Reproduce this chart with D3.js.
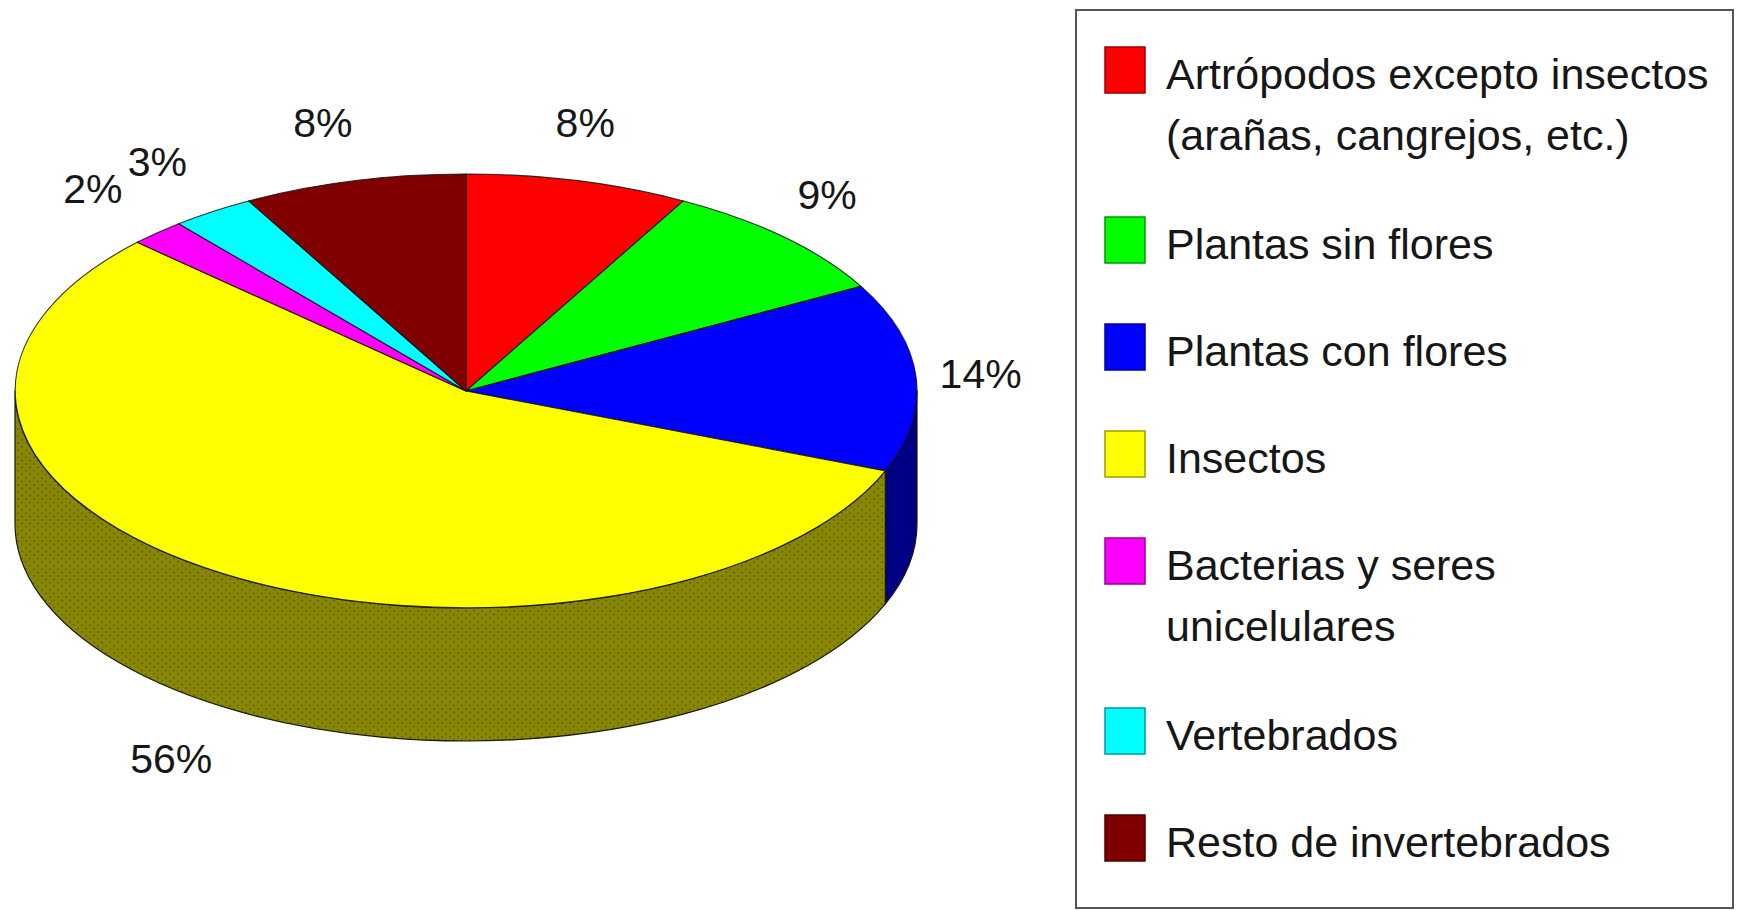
<!DOCTYPE html>
<html>
<head>
<meta charset="utf-8">
<script src="https://cdn.jsdelivr.net/npm/d3@7"></script>
<style>
  html, body { margin: 0; padding: 0; background: #ffffff; }
  svg { display: block; }
  text { font-family: "Liberation Sans", Arial, Helvetica, sans-serif; fill: #161616; }
</style>
</head>
<body>
<svg id="chart" width="1741" height="911"></svg>
<script>
// ---- data ----
const categoryLines = [
  ["Artrópodos excepto insectos", "(arañas, cangrejos, etc.)"],
  ["Plantas sin flores"],
  ["Plantas con flores"],
  ["Insectos"],
  ["Bacterias y seres", "unicelulares"],
  ["Vertebrados"],
  ["Resto de invertebrados"]
];
const values = [8, 9, 14, 56, 2, 3, 8];
const pctLabels = ["8%", "9%", "14%", "56%", "2%", "3%", "8%"];
const topColors = ["#ff0000", "#00ff00", "#0000ff", "#ffff00", "#ff00ff", "#00ffff", "#800000"];
const sideColors = ["#800000", "#008000", "#000085", "#848400", "#800080", "#008080", "#400000"];

// ---- layout ----
const svg = d3.select("#chart");
const cx = 466, cy = 391, rx = 451, ry = 217, depth = 133;

const defs = svg.append("defs");
const pat = defs.append("pattern")
  .attr("id", "dots").attr("patternUnits", "userSpaceOnUse")
  .attr("width", 8).attr("height", 7);
pat.append("rect").attr("width", 8).attr("height", 7).attr("fill", "#878705");
pat.append("circle").attr("cx", 2).attr("cy", 2).attr("r", 1.1).attr("fill", "#5c5c00").attr("opacity", 0.7);
pat.append("circle").attr("cx", 6).attr("cy", 5.5).attr("r", 1.1).attr("fill", "#5c5c00").attr("opacity", 0.7);

const pie = d3.pie().sort(null).value(d => d)(values);

const P = (t, dy = 0) => [cx + rx * Math.sin(t), cy - ry * Math.cos(t) + dy];

// side walls (front half only)
const gSide = svg.append("g");
pie.forEach((d, i) => {
  const s = Math.max(d.startAngle, Math.PI / 2);
  const e = Math.min(d.endAngle, 3 * Math.PI / 2);
  if (s >= e) return;
  const a = P(s), b = P(e), c = P(e, depth), f = P(s, depth);
  const path = `M${a[0]},${a[1]} A${rx},${ry} 0 0 1 ${b[0]},${b[1]} L${c[0]},${c[1]} A${rx},${ry} 0 0 0 ${f[0]},${f[1]} Z`;
  gSide.append("path")
    .attr("d", path)
    .attr("fill", i === 3 ? "url(#dots)" : sideColors[i])
    .attr("stroke", "#1a1a00")
    .attr("stroke-width", 1.2)
    .attr("stroke-linejoin", "round");
});

// top face
const arc = d3.arc().innerRadius(0).outerRadius(1);
svg.append("g")
  .attr("transform", `translate(${cx},${cy}) scale(${rx},${ry})`)
  .selectAll("path")
  .data(pie)
  .join("path")
  .attr("d", arc)
  .attr("fill", (d, i) => topColors[i])
  .attr("stroke", "#111")
  .attr("stroke-opacity", 0.85)
  .attr("stroke-width", 1.1)
  .attr("vector-effect", "non-scaling-stroke")
  .attr("stroke-linejoin", "round");

// percentage labels
const kx = 1.17, ky = 1.28, labelShiftX = -12;
svg.append("g")
  .selectAll("text")
  .data(pie)
  .join("text")
  .attr("x", d => {
    const m = (d.startAngle + d.endAngle) / 2;
    return cx + kx * rx * Math.sin(m) + labelShiftX;
  })
  .attr("y", d => {
    const m = (d.startAngle + d.endAngle) / 2;
    return cy - ky * ry * Math.cos(m) + (Math.cos(m) < 0 ? depth : 0);
  })
  .attr("dy", "0.36em")
  .attr("text-anchor", "middle")
  .attr("font-size", 41)
  .text((d, i) => pctLabels[i]);

// legend
const lg = svg.append("g");
lg.append("rect")
  .attr("x", 1076).attr("y", 10).attr("width", 657).attr("height", 898)
  .attr("fill", "#fff").attr("stroke", "#555").attr("stroke-width", 2);

let base = 89;
categoryLines.forEach((lines, i) => {
  lg.append("rect")
    .attr("x", 1105).attr("y", base - 42)
    .attr("width", 40).attr("height", 46)
    .attr("fill", topColors[i])
    .attr("stroke", d3.color(topColors[i]).darker(1.4))
    .attr("stroke-width", 1.5);
  lines.forEach((ln, j) => {
    lg.append("text")
      .attr("x", 1166).attr("y", base + j * 61)
      .attr("font-size", 43)
      .text(ln);
  });
  base += 107 + (lines.length - 1) * 63;
});
</script>
</body>
</html>
